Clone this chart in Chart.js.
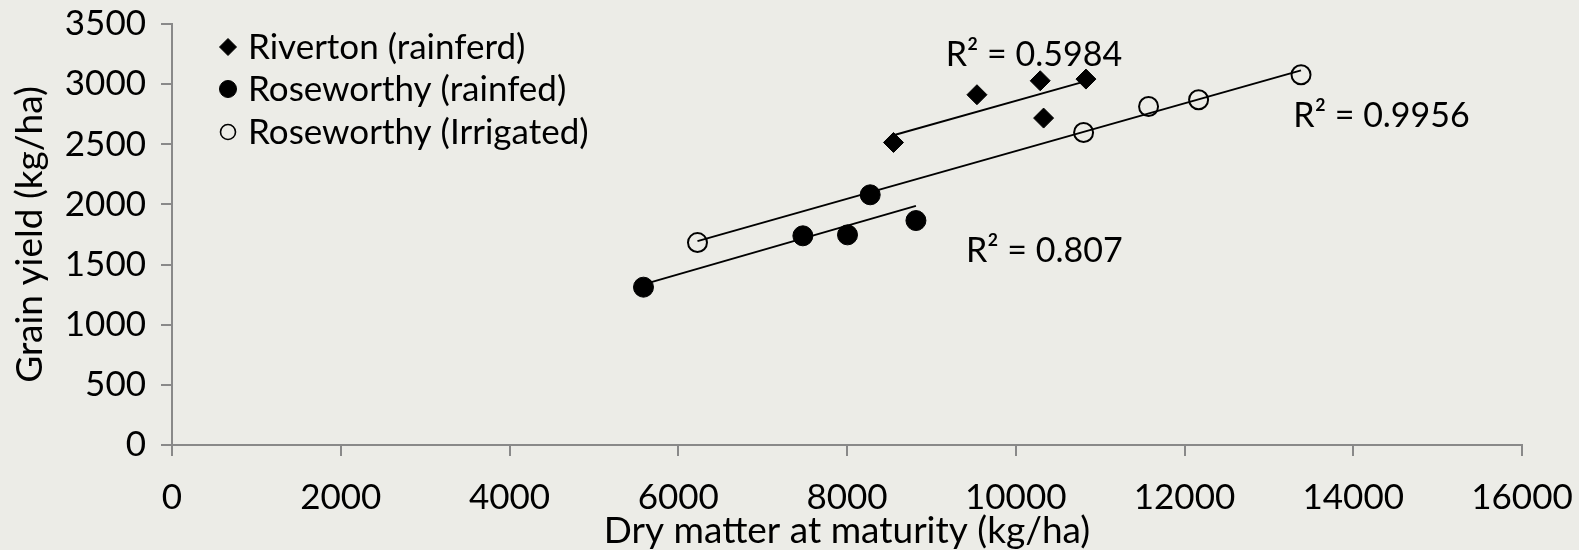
<!DOCTYPE html>
<html lang="en">
<head>
<meta charset="UTF-8">
<title>Grain yield vs dry matter at maturity</title>
<script src="https://cdn.jsdelivr.net/npm/chart.js"></script>
<style>
  html, body { margin: 0; padding: 0; background: #ececE7; }
  #wrap { width: 1579px; height: 550px; }
</style>
</head>
<body>
<div id="wrap"><canvas id="yieldChart"></canvas></div>
<script>
// dry matter (kg/ha) and grain yield (kg/ha) per site
const rivertonDM = [8551, 9540, 10290, 10330, 10832];
const rivertonYield = [2515, 2912, 3028, 2718, 3042];
const rainfedDM = [5588, 7477, 8006, 8275, 8817];
const rainfedYield = [1312, 1739, 1747, 2080, 1866];
const irrigatedDM = [6228, 10804, 11574, 12167, 13381];
const irrigatedYield = [1683, 2598, 2814, 2870, 3078];

const seriesNames = ['Riverton (rainferd)', 'Roseworthy (rainfed)', 'Roseworthy (Irrigated)'];
const r2Text = ['R² = 0.5984', 'R² = 0.807', 'R² = 0.9956'];
// where each R² note sits, in axis units (left edge, middle)
const r2At = [[9170, 3245], [9410, 1611], [13290, 2739]];

const xMax = 16000, xStep = 2000;
const yMax = 3500, yStep = 500;

const FONT = 'Lato';
const FONT_SIZE = 35;
const AXIS_GREY = '#898989';

function pts(xs, ys) {
  return xs.map((x, i) => ({ x: x, y: ys[i] }));
}

// least squares line drawn across the range of the data
function trend(xs, ys) {
  const n = xs.length;
  const mx = xs.reduce((a, b) => a + b, 0) / n;
  const my = ys.reduce((a, b) => a + b, 0) / n;
  let sxy = 0, sxx = 0;
  for (let i = 0; i < n; i++) {
    sxy += (xs[i] - mx) * (ys[i] - my);
    sxx += (xs[i] - mx) * (xs[i] - mx);
  }
  const b = sxy / sxx, a = my - b * mx;
  const lo = Math.min(...xs), hi = Math.max(...xs);
  return [{ x: lo, y: a + b * lo }, { x: hi, y: a + b * hi }];
}

function trendSet(xs, ys) {
  return {
    type: 'line',
    data: trend(xs, ys),
    borderColor: '#000',
    borderWidth: 2,
    pointRadius: 0,
    showLine: true,
    fill: false,
    order: 2
  };
}

const markers = [
  { pointStyle: 'rectRot', radius: 10, fill: '#000', border: '#000', width: 1 },
  { pointStyle: 'circle', radius: 10, fill: '#000', border: '#000', width: 1 },
  { pointStyle: 'circle', radius: 9.5, fill: 'rgba(0,0,0,0)', border: '#000', width: 2 }
];

function markerSet(i, xs, ys) {
  const m = markers[i];
  return {
    type: 'scatter',
    label: seriesNames[i],
    data: pts(xs, ys),
    pointStyle: m.pointStyle,
    pointRadius: m.radius,
    pointHoverRadius: m.radius,
    pointBackgroundColor: m.fill,
    pointBorderColor: m.border,
    pointBorderWidth: m.width,
    order: 1
  };
}

// legend in the top-left corner of the plot
const cornerLegend = {
  id: 'cornerLegend',
  afterDraw(chart) {
    const ctx = chart.ctx;
    const rowY = [47, 89, 132];
    ctx.save();
    ctx.font = FONT_SIZE + 'px ' + FONT;
    ctx.textBaseline = 'middle';
    ctx.textAlign = 'left';
    seriesNames.forEach((name, i) => {
      const m = markers[i];
      ctx.fillStyle = m.fill;
      ctx.strokeStyle = m.border;
      ctx.lineWidth = i === 2 ? 1.6 : 1;
      Chart.helpers.drawPoint(ctx, {
        pointStyle: m.pointStyle,
        radius: i === 2 ? 7.5 : 8.5,
        rotation: 0,
        borderWidth: ctx.lineWidth
      }, 228, rowY[i]);
      ctx.fillStyle = '#000';
      ctx.fillText(name, 248, rowY[i] + 1);
    });
    ctx.restore();
  }
};

// R² notes next to each trend line
const r2Notes = {
  id: 'r2Notes',
  afterDatasetsDraw(chart) {
    const { ctx, scales } = chart;
    ctx.save();
    ctx.font = '34px ' + FONT;
    ctx.fillStyle = '#000';
    ctx.textBaseline = 'middle';
    ctx.textAlign = 'left';
    r2Text.forEach((t, i) => {
      ctx.fillText(t, scales.x.getPixelForValue(r2At[i][0]), scales.y.getPixelForValue(r2At[i][1]));
    });
    ctx.restore();
  }
};

const tickFont = { family: FONT, size: FONT_SIZE };
const titleFont = { family: FONT, size: 37, lineHeight: 1.05 };

new Chart(document.getElementById('yieldChart'), {
  type: 'scatter',
  data: {
    datasets: [
      markerSet(0, rivertonDM, rivertonYield),
      markerSet(1, rainfedDM, rainfedYield),
      markerSet(2, irrigatedDM, irrigatedYield),
      trendSet(rivertonDM, rivertonYield),
      trendSet(rainfedDM, rainfedYield),
      trendSet(irrigatedDM, irrigatedYield)
    ]
  },
  options: {
    responsive: true,
    maintainAspectRatio: false,
    animation: false,
    layout: { padding: { top: 24, right: 57, left: 0, bottom: 0 } },
    plugins: {
      legend: { display: false },
      tooltip: { enabled: false }
    },
    scales: {
      x: {
        type: 'linear',
        min: 0,
        max: xMax,
        afterFit(scale) {
          scale.height = 105;
          scale.paddingLeft = 0;
          scale.paddingRight = 0;
        },
        ticks: {
          stepSize: xStep,
          font: tickFont,
          color: '#000',
          padding: 21,
          maxRotation: 0,
          callback: v => String(v)
        },
        grid: { drawOnChartArea: false, drawTicks: true, tickLength: 11, color: AXIS_GREY, lineWidth: 2 },
        border: { color: AXIS_GREY, width: 2 },
        title: {
          display: true,
          text: 'Dry matter at maturity (kg/ha)',
          font: titleFont,
          color: '#000',
          padding: { top: 0, bottom: 0 }
        }
      },
      y: {
        type: 'linear',
        min: 0,
        max: yMax,
        afterFit(scale) {
          scale.width = 172;
          scale.paddingTop = 0;
          scale.paddingBottom = 0;
        },
        ticks: {
          stepSize: yStep,
          font: tickFont,
          color: '#000',
          padding: 15,
          callback: v => String(v)
        },
        grid: { drawOnChartArea: false, drawTicks: true, tickLength: 11, color: AXIS_GREY, lineWidth: 2 },
        border: { color: AXIS_GREY, width: 2 },
        title: {
          display: true,
          text: 'Grain yield (kg/ha)',
          font: titleFont,
          color: '#000',
          padding: { top: 11, bottom: 0 }
        }
      }
    }
  },
  plugins: [cornerLegend, r2Notes]
});
</script>
</body>
</html>
